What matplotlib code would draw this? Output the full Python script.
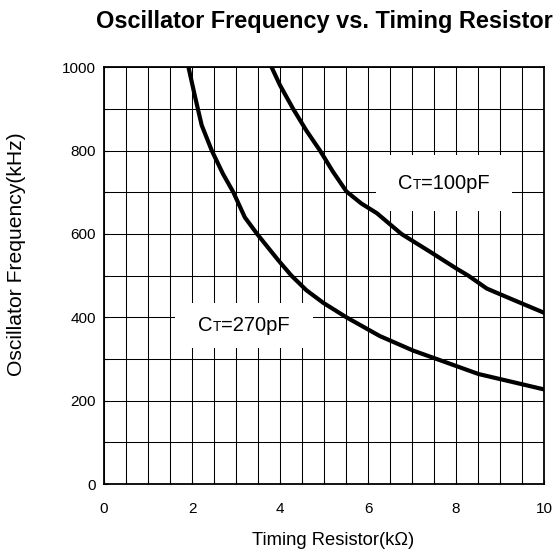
import matplotlib
matplotlib.use("Agg")
import matplotlib.pyplot as plt
from matplotlib.patches import Rectangle
from matplotlib.offsetbox import TextArea, HPacker, AnnotationBbox

plt.rcParams['font.family'] = ['Liberation Sans', 'DejaVu Sans']

# Data
r_100 = [3.81, 4.0, 4.3, 4.6, 4.91, 5.2, 5.51, 5.85, 6.2, 6.76, 7.4, 8.01, 8.28, 8.7, 9.3, 10.0]
f_100 = [1000, 957, 900, 848, 800, 750, 702, 673, 650, 600, 558, 517, 500, 469, 442, 411]
r_270 = [1.92, 2.07, 2.22, 2.45, 2.7, 2.94, 3.2, 3.48, 3.96, 4.26, 4.6, 4.98, 5.51, 6.27, 7.03, 7.56, 8.51, 10.0]
f_270 = [1000, 929, 861, 800, 745, 700, 640, 600, 537, 500, 465, 435, 400, 355, 320, 300, 264, 227]

x_ticks = [0, 2, 4, 6, 8, 10]
y_ticks = [0, 200, 400, 600, 800, 1000]
title = "Oscillator Frequency vs. Timing Resistor"
xlabel = "Timing Resistor(k\u03a9)"
ylabel = "Oscillator Frequency(kHz)"
labels = [("C", "T", "=100pF"), ("C", "T", "=270pF")]

fig = plt.figure(figsize=(5.55, 5.58), dpi=100)
ax = fig.add_axes([0.1874, 0.1326, 0.7928, 0.7468])

ax.set_xlim(0, 10)
ax.set_ylim(0, 1000)
ax.set_xticks(x_ticks)
ax.set_yticks(y_ticks)
ax.set_xticks([i * 0.5 for i in range(21)], minor=True)
ax.set_yticks([i * 100 for i in range(11)], minor=True)
ax.grid(which='both', color='black', linewidth=0.75, zorder=1)
ax.set_axisbelow(True)
ax.tick_params(which='both', direction='in', length=3, width=0.8, labelsize=11)
ax.tick_params(axis='x', pad=13)
ax.tick_params(axis='y', pad=6)
for s in ax.spines.values():
    s.set_linewidth(1.3)
    s.set_zorder(5)

ax.plot(r_100, f_100, color='black', linewidth=3, zorder=4, solid_joinstyle='round')
ax.plot(r_270, f_270, color='black', linewidth=3, zorder=4, solid_joinstyle='round')

# label boxes (white, hide grid)
boxes = [((6.18, 655), 3.09, 134.5), ((1.61, 326), 3.14, 108)]
centers = [(7.73, 722), (3.18, 381)]
for (xy, w, h), (cx, cy), (a, b, c) in zip(boxes, centers, labels):
    ax.add_patch(Rectangle(xy, w, h, facecolor='white', edgecolor='none', zorder=3))
    pk = HPacker(children=[TextArea(a, textprops=dict(fontsize=14.5)),
                           TextArea(b, textprops=dict(fontsize=10)),
                           TextArea(c, textprops=dict(fontsize=14.5))],
                 align="baseline", pad=0, sep=0)
    ab = AnnotationBbox(pk, (cx, cy), frameon=False, box_alignment=(0.5, 0.5), zorder=6)
    ax.add_artist(ab)

ax.set_title(title, fontsize=16.9, fontweight='bold', pad=28)
ax.set_xlabel(xlabel, fontsize=13.25)
ax.xaxis.set_label_coords(0.52, -0.115)
ax.set_ylabel(ylabel, fontsize=15.2)
ax.yaxis.set_label_coords(-0.178, 0.552)

fig.savefig("out.png", dpi=100)
